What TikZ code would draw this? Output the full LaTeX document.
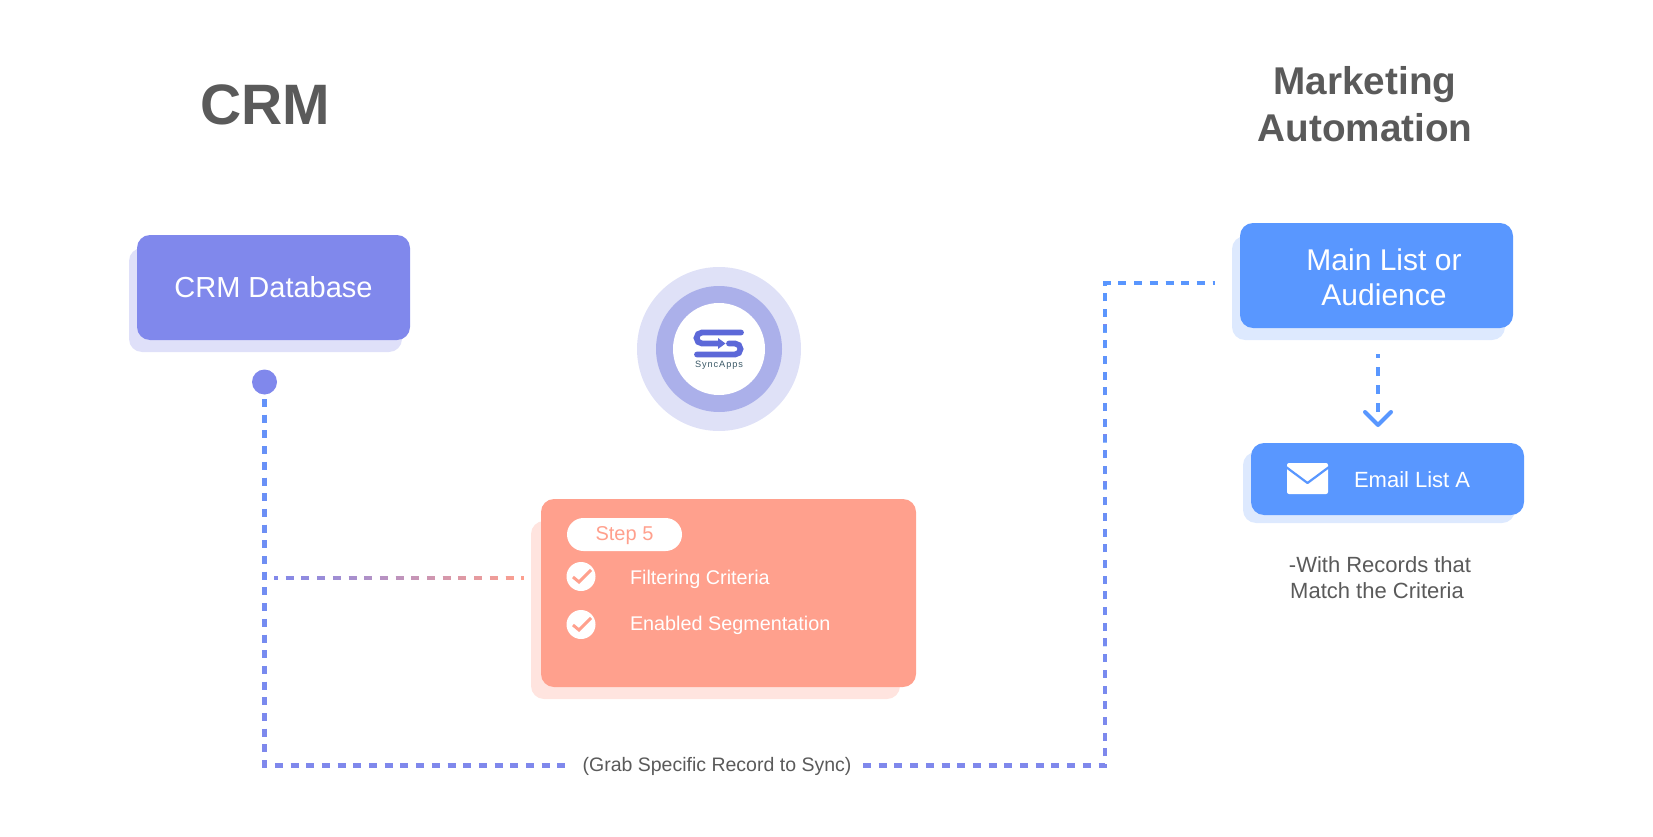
\documentclass[tikz,border=0pt]{standalone}
\usepackage{fontspec}
\setmainfont{Liberation Sans}
\usetikzlibrary{fadings}
\definecolor{purp}{HTML}{8088EC}
\definecolor{purpsh}{HTML}{DFE0F9}
\definecolor{blu}{HTML}{5997FF}
\definecolor{blush}{HTML}{DDE9FE}
\definecolor{salm}{HTML}{FFA08D}
\definecolor{salmsh}{HTML}{FFE4DF}
\definecolor{ringa}{HTML}{DFE1F7}
\definecolor{ringb}{HTML}{ABB0EA}
\definecolor{logoc}{HTML}{5C68D8}
\definecolor{logot}{HTML}{3C5A68}
\definecolor{txt}{HTML}{5A5A5A}
\newcommand{\fs}[1]{\fontsize{#1pt}{#1pt}\selectfont}
\tikzset{
  x=1pt,y=-1pt,
  box/.style={rectangle,rounded corners=13pt,inner sep=0pt,outer sep=0pt},
  disc/.style={circle,inner sep=0pt,outer sep=0pt},
  label text/.style={inner sep=0pt,outer sep=0pt,align=center},
  dashline/.style={line width=4.5pt,dash pattern=on 8pt off 7.7pt},
  tick/.style={draw=salm,line width=3pt},
  logostroke/.style={draw=logoc,line width=5.8pt,line cap=round,rounded corners=5.5pt},
}
\begin{document}
\begin{tikzpicture}
\useasboundingbox (0,0) rectangle (1653,837);
% headings
\node[label text,text=txt,font=\fs{57}\bfseries] (crmhead) at (265,105) {CRM};
\node[label text,text=txt,font=\fs{38.7}\bfseries] (mahead1) at (1365,84.5) {Marketing};
\node[label text,text=txt,font=\fs{38.7}\bfseries] (mahead2) at (1365,128) {Automation};
% CRM database
\node[box,fill=purpsh,minimum width=273pt,minimum height=104pt] (crmsh) at (265.5,300) {};
\node[box,fill=purp,minimum width=273pt,minimum height=105pt,text=white,font=\fs{29}] (crm) at (273.5,287.5) {CRM Database};
\node[disc,fill=purp,minimum size=25pt] (dot) at (264.5,382) {};
% logo
\node[disc,fill=ringa,minimum size=164pt] (ring1) at (719,349) {};
\node[disc,fill=ringb,minimum size=126pt] (ring2) at (719,349) {};
\node[disc,fill=white,minimum size=92pt] (ring3) at (719,349) {};
\draw[logostroke] (741,332.5) -- (696.5,332.5) -- (696.5,343.5) -- (720,343.5);
\fill[logoc] (718,338) -- (725.5,343.5) -- (718,349) -- cycle;
\draw[logostroke] (729,343.5) -- (740.5,343.5) -- (740.5,354.5) -- (697,354.5);
\node[label text,text=logot,font=\fs{9.2}\addfontfeature{LetterSpace=10}] (logotext) at (719,365) {SyncApps};
% step box
\node[box,fill=salmsh,minimum width=369pt,minimum height=178pt] (stepsh) at (715.5,610) {};
\node[box,fill=salm,minimum width=375pt,minimum height=188pt] (stepbox) at (728.5,593) {};
\node[rectangle,rounded corners=16.5pt,inner sep=0pt,fill=white,minimum width=115pt,minimum height=33pt] (pill) at (624.5,534.5) {};
\node[label text,text=salm,font=\fs{20}] (steptext) at (624.5,536) {Step 5};
\node[disc,fill=white,minimum size=29pt] (c1) at (581,576.5) {};
\node[disc,fill=white,minimum size=29pt] (c2) at (581,624.5) {};
\draw[tick] (573,577) -- (579,582) -- (591,570);
\draw[tick] (573,625) -- (579,630) -- (591,618);
\node[label text,anchor=west,text=white,font=\fs{19.8}] (f1) at (630,579) {Filtering Criteria};
\node[label text,anchor=west,text=white,font=\fs{19.8}] (f2) at (630,625) {Enabled Segmentation};
% main list
\node[box,fill=blush,minimum width=273pt,minimum height=104pt] (mainsh) at (1368.5,288) {};
\node[box,fill=blu,minimum width=273pt,minimum height=105pt] (main) at (1376.5,275.5) {};
\node[label text,text=white,font=\fs{30}] (m1) at (1384,260) {Main List or};
\node[label text,text=white,font=\fs{30}] (m2) at (1384,295) {Audience};
% email
\node[box,fill=blush,minimum width=272pt,minimum height=71pt] (emailsh) at (1379,487.5) {};
\node[box,fill=blu,minimum width=273pt,minimum height=72pt] (email) at (1387.5,479) {};
\node[rectangle,rounded corners=2pt,fill=white,minimum width=41pt,minimum height=31pt,inner sep=0pt] (env) at (1307.5,478.5) {};
\draw[blu,line width=2.2pt,line join=round] (1286,467) -- (1307.5,483) -- (1329,467);
\node[label text,anchor=west,text=white,font=\fs{22}] (el) at (1354,480) {Email List A};
\node[label text,text=txt,font=\fs{22}] (n1) at (1380,565) {-With Records that};
\node[label text,text=txt,font=\fs{22}] (n2) at (1377,591) {Match the Criteria};
% arrow main -> email
\coordinate (as) at (1378,354);
\coordinate (ae) at (1378,412);
\draw[blu,line width=4.5pt,dash pattern=on 9pt off 9pt,dash phase=5pt] (as) -- (ae);
\draw[blu,line width=4pt,line cap=round,line join=round] (1365,412) -- (1378,425) -- (1391,412);
% grab label
\node[label text,text=txt,font=\fs{19.5}] (grab) at (717,766) {(Grab Specific Record to Sync)};
% connectors
\coordinate (a0) at (264.5,399);
\coordinate (a1) at (264.5,765.5);
\coordinate (a2) at (570,765.5);
\coordinate (b0) at (863,765.5);
\coordinate (b1) at (1105,765.5);
\coordinate (b2) at (1105,283);
\coordinate (b3) at (1215,283);
\coordinate (c0) at (274,578);
\coordinate (c9) at (524,578);
\draw[purp,dashline] (a0) -- (a1) -- (a2);
\draw[blu!75!purp,dashline,path fading=south] (a0) -- (a1) -- (a2);
\draw[purp,dashline] (b0) -- (b1) -- (b2) -- (b3);
\draw[blu,dashline,path fading=south] (b0) -- (b1) -- (b2) -- (b3);
\draw[purp,line width=4.5pt,dash pattern=on 8pt off 7.7pt,dash phase=4pt] (c0) -- (c9);
\draw[salm,line width=4.5pt,dash pattern=on 8pt off 7.7pt,dash phase=4pt,path fading=west] (c0) -- (c9) (c0) ++(0,-5) ++(0,10);
\end{tikzpicture}
\end{document}
